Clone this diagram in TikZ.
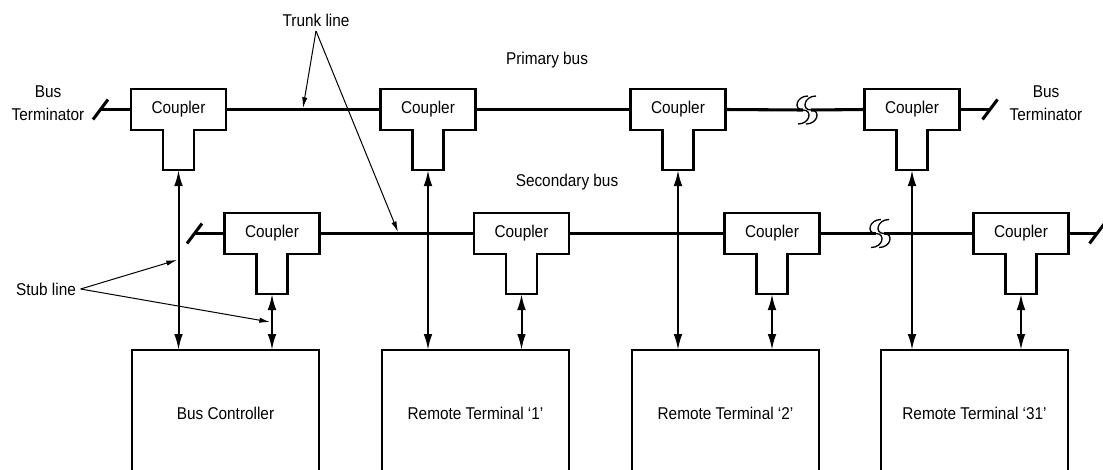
\documentclass[tikz,border=0pt]{standalone}
\usepackage{fontspec}
\setmainfont[FakeStretch=0.9]{Liberation Sans}
\usetikzlibrary{arrows.meta, calc, positioning}
\tikzset{
  cpl/.style={minimum width=71.25pt, minimum height=30.75pt, inner sep=0pt,
              outer sep=0pt, font=\fontsize{12.8}{14}\selectfont},
  stem/.style={minimum width=23.25pt, minimum height=30pt, inner sep=0pt, outer sep=0pt},
  rtbox/.style={draw, line width=1.5pt, minimum width=140.25pt, minimum height=94.5pt,
                inner sep=0pt, outer sep=0pt, font=\fontsize{12.8}{14}\selectfont},
  bus/.style={line width=2.3pt},
  stub/.style={{Latex[length=12pt,width=6.5pt]}-{Latex[length=12pt,width=6.5pt]}, line width=1.5pt},
  lbl/.style={font=\fontsize{12.8}{17}\selectfont, align=center},
  ptr/.style={-{Latex[length=8pt,width=4pt]}, line width=0.75pt},
}
% T outline of a coupler: box #1 and stem #1s
\newcommand{\couplerT}[1]{%
  \draw[line width=1.6pt] (#1.north west) -- (#1.north east) -- (#1.south east)
    -- (#1s.north east) -- (#1s.south east) -- (#1s.south west)
    -- (#1s.north west) -- (#1.south west) -- cycle;}
% one S of the bus break symbol
\newcommand{\busS}[1]{%
  \draw[line width=1pt] ($(#1)+(5,-14)$) .. controls +(-12,0) and +(-10,0) .. (#1)
    .. controls +(10,0) and +(12,0) .. ($(#1)+(-5,14)$);}
% bus terminator slash
\newcommand{\busterm}[1]{%
  \draw[bus] ($(#1)+(-7.5,10)$) -- ($(#1)+(7.5,-10)$);}

\begin{document}
\begin{tikzpicture}[x=0.75pt, y=-0.75pt, node distance=0pt]
  \useasboundingbox (0,0) rectangle (1103,469);
  \clip (0,0) rectangle (1103,469);

  % primary bus couplers
  \node[cpl] (p1) at (178.5,109.5) {Coupler};
  \node[cpl] (p2) at (428,109.5) {Coupler};
  \node[cpl] (p3) at (678,109.5) {Coupler};
  \node[cpl] (p4) at (912,109.5) {Coupler};
  \foreach \c in {p1,p2,p3,p4} {
    \node[stem, below=of \c] (\c s) {};
    \couplerT{\c}
  }

  % secondary bus couplers
  \node[cpl] (s1) at (272,233.5) {Coupler};
  \node[cpl] (s2) at (521.5,233.5) {Coupler};
  \node[cpl] (s3) at (772,233.5) {Coupler};
  \node[cpl] (s4) at (1021,233.5) {Coupler};
  \foreach \c in {s1,s2,s3,s4} {
    \node[stem, below=of \c] (\c s) {};
    \couplerT{\c}
  }

  % terminals
  \node[rtbox] (bc) at (225.5,413) {Bus Controller};
  \node[rtbox] (rt1) at (475.5,413) {Remote Terminal `1'};
  \node[rtbox] (rt2) at (725.5,413) {Remote Terminal `2'};
  \node[rtbox] (rt31) at (974.5,413) {Remote Terminal `31'};

  % bus ends and breaks
  \coordinate (tp1) at (100.5,109.5);
  \coordinate (tp2) at (990,109.5);
  \coordinate (ts1) at (194.5,233.5);
  \coordinate (ts2) at (1097,233.5);
  \coordinate (bp1) at (803,110);
  \coordinate (bp2) at (811,110);
  \coordinate (bs1) at (876,233.5);
  \coordinate (bs2) at (884,233.5);

  % primary bus
  \draw[bus] (tp1) -- (p1.west);
  \draw[bus] (p1.east) -- (p2.west);
  \draw[bus] (p2.east) -- (p3.west);
  \draw[bus] (p3.east) -- (bp1);
  \draw[bus] (bp2) -- (p4.west);
  \draw[bus] (p4.east) -- (tp2);
  \busterm{tp1}
  \busterm{tp2}
  \busS{bp1}
  \busS{bp2}

  % secondary bus
  \draw[bus] (ts1) -- (s1.west);
  \draw[bus] (s1.east) -- (s2.west);
  \draw[bus] (s2.east) -- (s3.west);
  \draw[bus] (s3.east) -- (bs1);
  \draw[bus] (bs2) -- (s4.west);
  \draw[bus] (s4.east) -- (ts2);
  \busterm{ts1}
  \busterm{ts2}
  \busS{bs1}
  \busS{bs2}

  % stub lines
  \draw[stub] (p1s.south) -- (p1s.south |- bc.north);
  \draw[stub] (s1s.south) -- (s1s.south |- bc.north);
  \draw[stub] (p2s.south) -- (p2s.south |- rt1.north);
  \draw[stub] (s2s.south) -- (s2s.south |- rt1.north);
  \draw[stub] (p3s.south) -- (p3s.south |- rt2.north);
  \draw[stub] (s3s.south) -- (s3s.south |- rt2.north);
  \draw[stub] (p4s.south) -- (p4s.south |- rt31.north);
  \draw[stub] (s4s.south) -- (s4s.south |- rt31.north);

  % labels
  \node[lbl] (prim) at (547,60) {Primary bus};
  \node[lbl] (sec) at (567,182) {Secondary bus};
  \node[lbl] (btl) at (48,103.5) {Bus\\Terminator};
  \node[lbl] (btr) at (1046,103.5) {Bus\\Terminator};
  \node[lbl] (trunk) at (316,20) {Trunk line};
  \node[lbl] (stubl) at (46,289) {Stub line};

  \coordinate (tk1) at (303,108);
  \coordinate (tk2) at (398,232);
  \coordinate (sb1) at (177,260);
  \coordinate (sb2) at (270,322);
  \draw[ptr] (trunk.south) -- (tk1);
  \draw[ptr] (trunk.south) -- (tk2);
  \draw[ptr] (stubl.east) -- (sb1);
  \draw[ptr] (stubl.east) -- (sb2);
\end{tikzpicture}
\end{document}
